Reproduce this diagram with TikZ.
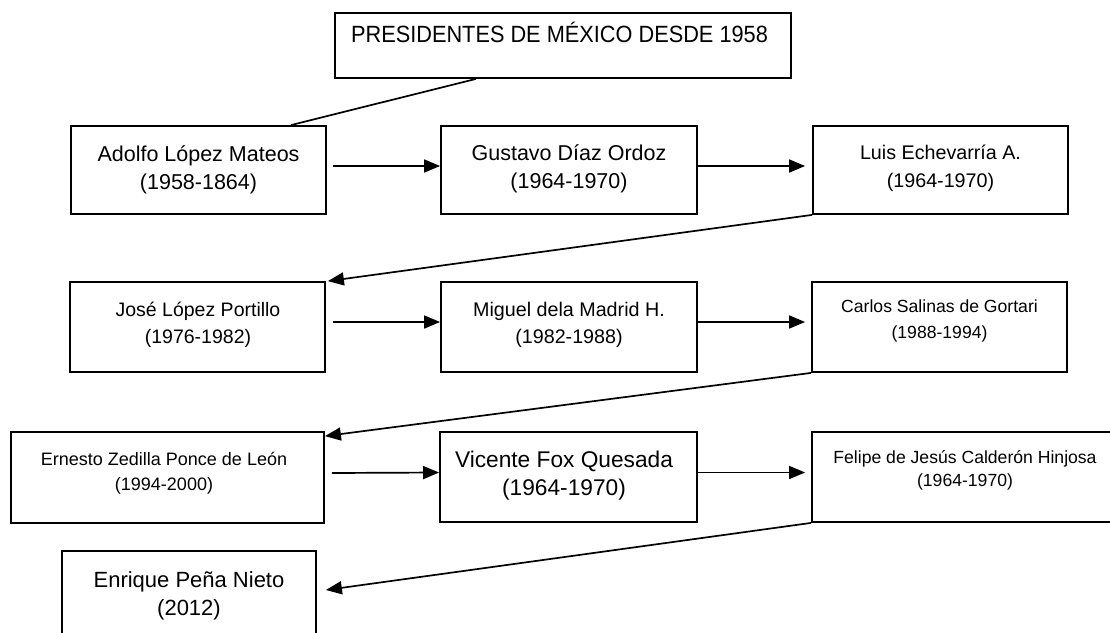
\documentclass[tikz,border=0pt]{standalone}
\usepackage{fontspec}
\setmainfont{Liberation Sans}
\newfontfamily\titlefont[FakeStretch=0.925]{Liberation Sans}
\usetikzlibrary{arrows.meta,calc}
\begin{document}
\begin{tikzpicture}[x=1pt,y=-1pt,
  pbox/.style={draw=black,line width=1.8pt,inner sep=0pt},
  conn/.style={line width=1.7pt,draw=black},
  arr/.style={conn,-{Triangle[length=16pt,width=13pt]}},
  txt/.style={anchor=base,inner sep=0pt}]
\useasboundingbox (0,0) rectangle (1110,632);
\clip (0,0) rectangle (1110,632);
% boxes
\node[pbox,minimum width=456pt,minimum height=65pt] (title) at (563,45.5) {};
\node[pbox,minimum width=255pt,minimum height=88pt] (adolfo) at (198.5,170) {};
\node[pbox,minimum width=256pt,minimum height=88pt] (gustavo) at (569,170) {};
\node[pbox,minimum width=255pt,minimum height=88pt] (luis) at (940.5,170) {};
\node[pbox,minimum width=255pt,minimum height=90pt] (jose) at (197.5,327) {};
\node[pbox,minimum width=256pt,minimum height=90pt] (miguel) at (569,327) {};
\node[pbox,minimum width=255pt,minimum height=90pt] (carlos) at (939.5,327) {};
\node[pbox,minimum width=313pt,minimum height=91pt] (ernesto) at (167.5,477.5) {};
\node[pbox,minimum width=257pt,minimum height=90pt] (vicente) at (568.5,477) {};
\node[pbox,minimum width=306pt,minimum height=90pt] (felipe) at (965,477) {};
\node[pbox,minimum width=254pt,minimum height=94pt] (enrique) at (189,598) {};
% texts
\node[txt,font=\titlefont\fontsize{23.5}{24}\selectfont] (t0) at (559.5,42) {PRESIDENTES DE MÉXICO DESDE 1958};
\node[txt,font=\fontsize{21.5}{22}\selectfont] (t1a) at (198.5,161) {Adolfo López Mateos};
\node[txt,font=\fontsize{21.5}{22}\selectfont] (t1b) at (198.5,189) {(1958-1864)};
\node[txt,font=\fontsize{21.5}{22}\selectfont] (t2a) at (569,160) {Gustavo Díaz Ordoz};
\node[txt,font=\fontsize{21.5}{22}\selectfont] (t2b) at (569,188) {(1964-1970)};
\node[txt,font=\fontsize{19.7}{22}\selectfont] (t3a) at (940.5,159) {Luis Echevarría A.};
\node[txt,font=\fontsize{19.7}{22}\selectfont] (t3b) at (940.5,187) {(1964-1970)};
\node[txt,font=\fontsize{19.5}{22}\selectfont] (t4a) at (198,316) {José López Portillo};
\node[txt,font=\fontsize{19.5}{22}\selectfont] (t4b) at (198,343) {(1976-1982)};
\node[txt,font=\fontsize{19.7}{22}\selectfont] (t5a) at (569,316) {Miguel dela Madrid H.};
\node[txt,font=\fontsize{19.7}{22}\selectfont] (t5b) at (569,343) {(1982-1988)};
\node[txt,font=\fontsize{17.6}{20}\selectfont] (t6a) at (939.5,312) {Carlos Salinas de Gortari};
\node[txt,font=\fontsize{17.6}{20}\selectfont] (t6b) at (939.5,338) {(1988-1994)};
\node[txt,font=\fontsize{18}{20}\selectfont] (t7a) at (164,465) {Ernesto Zedilla Ponce de León};
\node[txt,font=\fontsize{18}{20}\selectfont] (t7b) at (164,490) {(1994-2000)};
\node[txt,font=\fontsize{22.7}{24}\selectfont] (t8a) at (564,467) {Vicente Fox Quesada};
\node[txt,font=\fontsize{22.7}{24}\selectfont] (t8b) at (564,495) {(1964-1970)};
\node[txt,font=\fontsize{17.6}{20}\selectfont] (t9a) at (965,463) {Felipe de Jesús Calderón Hinjosa};
\node[txt,font=\fontsize{17.6}{20}\selectfont] (t9b) at (965,486) {(1964-1970)};
\node[txt,font=\fontsize{22}{24}\selectfont] (t10a) at (189,587) {Enrique Peña Nieto};
\node[txt,font=\fontsize{22}{24}\selectfont] (t10b) at (189,615) {(2012)};
% connectors
\draw[conn] ($(title.south west)!0.31!(title.south east)$) -- ($(adolfo.north west)!0.86!(adolfo.north east)$);
\draw[arr] ([xshift=6pt,yshift=4pt]adolfo.east) -- ([yshift=4pt]gustavo.west);
\draw[arr] ([yshift=4pt]gustavo.east) -- ([xshift=-7pt,yshift=4pt]luis.west);
\draw[arr] (luis.south west) -- ([xshift=2pt]jose.north east);
\draw[arr] ([xshift=7pt,yshift=5pt]jose.east) -- ([yshift=5pt]miguel.west);
\draw[arr] ([yshift=5pt]miguel.east) -- ([xshift=-6pt,yshift=5pt]carlos.west);
\draw[arr] (carlos.south west) -- ([yshift=-5pt]ernesto.north east);
\draw[arr] ([xshift=7pt,yshift=4.5pt]ernesto.east) -- ([yshift=4.5pt]vicente.west);
\draw[arr] ([yshift=4.5pt]vicente.east) -- ([xshift=-6pt,yshift=4.5pt]felipe.west);
\draw[arr] (felipe.south west) -- ([xshift=9pt,yshift=8pt]enrique.east);
\end{tikzpicture}
\end{document}
